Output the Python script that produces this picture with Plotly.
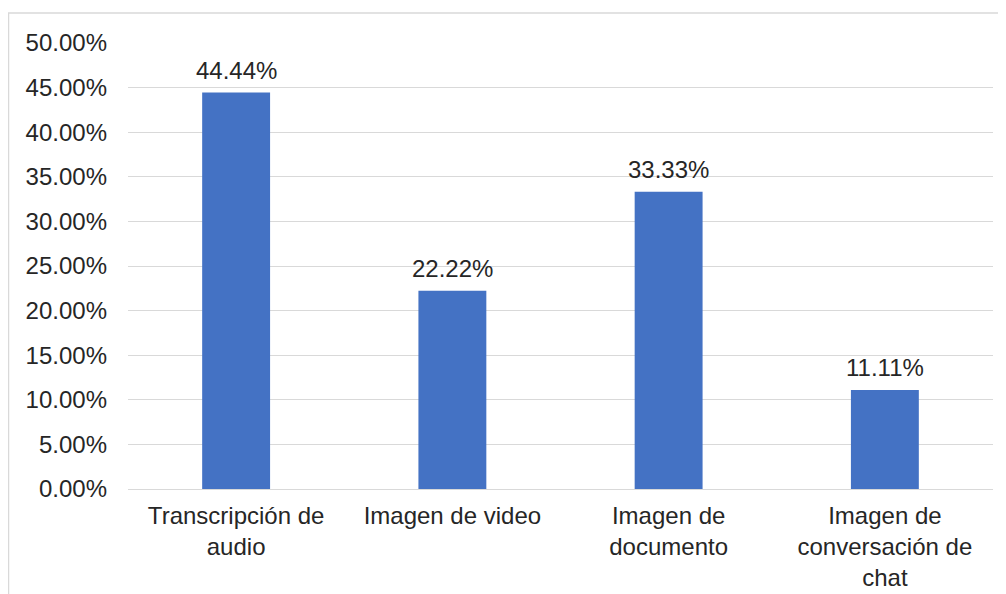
import plotly.graph_objects as go

categories = ["Transcripción de<br>audio", "Imagen de video", "Imagen de<br>documento",
              "Imagen de<br>conversación de<br>chat"]
values = [0.4444, 0.2222, 0.3333, 0.1111]
labels = ["44.44%", "22.22%", "33.33%", "11.11%"]
tick_vals = [0, 0.05, 0.10, 0.15, 0.20, 0.25, 0.30, 0.35, 0.40, 0.45, 0.50]
tick_text = ["0.00%", "5.00%", "10.00%", "15.00%", "20.00%", "25.00%", "30.00%",
             "35.00%", "40.00%", "45.00%", "50.00%"]

FONT = "Liberation Sans, Arial, sans-serif"
TXT = "#262626"
FS = 24
W, H = 1006, 594
OFF = 8  # browser default body margin
L, R, T, B = 128 - OFF, W - (993 - OFF), 43 - OFF, H - (489 - OFF)
pw, ph = W - L - R, H - T - B

fig = go.Figure()
fig.add_trace(go.Bar(x=categories, y=values, marker=dict(color="#4472C4", line=dict(width=0)),
                     width=0.314, hoverinfo="skip"))

for c, v, t in zip(categories, values, labels):
    fig.add_annotation(x=c, y=v, text=t, showarrow=False, yanchor="middle", yshift=22,
                       font=dict(family=FONT, size=FS, color=TXT))

# chart border (page pixel coords -> paper coords)
def px2x(p):
    return (p - OFF - L) / pw

def py2y(p):
    return (H - B - (p - OFF)) / ph

fig.add_shape(type="rect", xref="paper", yref="paper",
              x0=px2x(8.5), x1=px2x(1030), y0=py2y(13), y1=py2y(640),
              line=dict(color="#d9d9d9", width=1.5), fillcolor="rgba(0,0,0,0)", layer="below")

fig.update_layout(
    width=W, height=H,
    margin=dict(l=L, r=R, t=T, b=B, pad=0),
    paper_bgcolor="white", plot_bgcolor="white",
    showlegend=False,
    bargap=0.686,
    font=dict(family=FONT, size=FS, color=TXT),
    xaxis=dict(showgrid=False, showline=False, zeroline=False, ticks="",
               ticklabelstandoff=10,
               tickfont=dict(family=FONT, size=FS, color=TXT), fixedrange=True),
    yaxis=dict(range=[0, 0.5], tickvals=tick_vals, ticktext=tick_text,
               showgrid=True, gridcolor="#d9d9d9", gridwidth=1.3,
               zeroline=True, zerolinecolor="#d9d9d9", zerolinewidth=1.3,
               showline=False, ticks="", ticklabelstandoff=20,
               tickfont=dict(family=FONT, size=FS, color=TXT), fixedrange=True),
)

fig.write_html("out.html")
